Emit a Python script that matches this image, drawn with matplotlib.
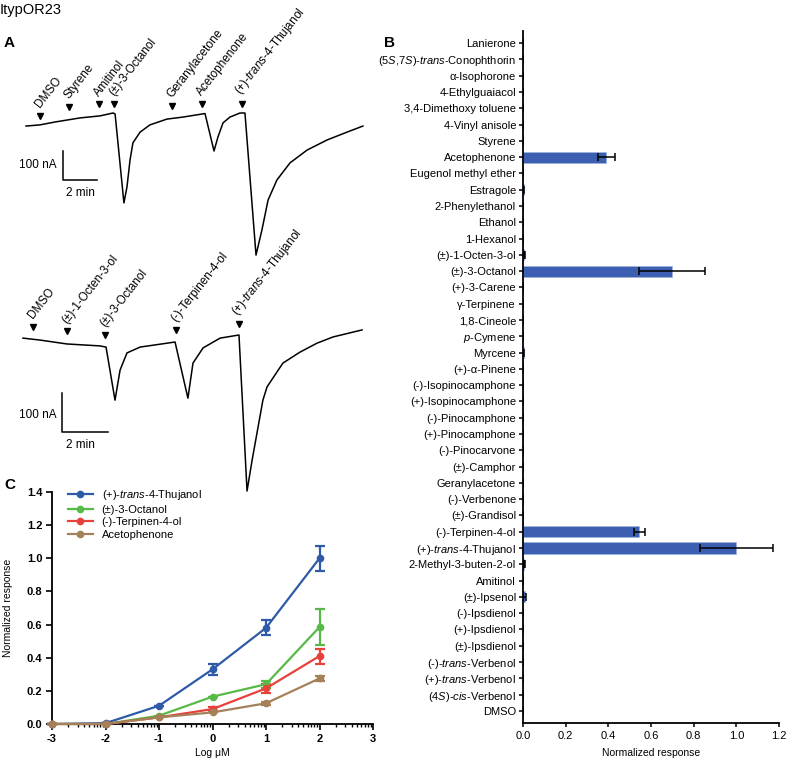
import numpy as np
import matplotlib
matplotlib.use('Agg')
import matplotlib.pyplot as plt
from matplotlib.ticker import FixedLocator
from matplotlib.lines import Line2D

plt.rcParams['font.family'] = ['Liberation Sans', 'DejaVu Sans']
plt.rcParams['mathtext.fontset'] = 'custom'
plt.rcParams['mathtext.rm'] = 'Liberation Sans'
plt.rcParams['mathtext.it'] = 'Liberation Sans:italic'
plt.rcParams['mathtext.bf'] = 'Liberation Sans:bold'

# ---------------- Panel A data (time in min, current in nA) ----------------
top_t = [0, 0.82, 1.71, 3.18, 4.35, 5.12, 5.24, 5.76, 5.94, 6.12, 6.29, 6.71, 7.29,
         8.29, 9.24, 10.41, 10.53, 11.06, 11.29, 11.59, 12.0, 12.59, 12.88, 13.53,
         13.88, 14.24, 14.76, 15.53, 16.53, 17.71, 18.88, 19.82]
top_i = [-45, -41, -31, -17, -10, 0, -3, -310, -255, -162, -103, -66, -41,
         -21, -14, -3, -2, -131, -83, -34, -14, 0, 0, -490,
         -403, -300, -231, -172, -128, -93, -66, -45]
top_stim_names = ['DMSO', 'Styrene', 'Amitinol', '(±)-3-Octanol', 'Geranylacetone',
                  'Acetophenone', r'(+)-$\mathit{trans}$-4-Thujanol']
top_stim_t = [0.82, 2.53, 4.29, 5.18, 8.59, 10.35, 12.71]
top_stim_i = [-10, 21, 31, 31, 24, 31, 31]

bot_t = [0, 0.74, 1.91, 3.35, 3.61, 4.0, 4.22, 4.52, 5.09, 6.26, 6.61, 7.17, 7.39,
         7.83, 8.57, 9.39, 9.74, 9.96, 10.43, 10.61, 11.3, 12.04, 12.78, 13.48, 14.74]
bot_i = [-8, -13, -23, -28, -31, -167, -90, -46, -31, -21, -18, -162, -72,
         -33, -8, 0, -400, -321, -167, -133, -72, -44, -21, -5, 13]
bot_stim_names = ['DMSO', '(±)-1-Octen-3-ol', '(±)-3-Octanol', '(-)-Terpinen-4-ol',
                  r'(+)-$\mathit{trans}$-4-Thujanol']
bot_stim_t = [0.43, 1.91, 3.57, 6.65, 9.39]
bot_stim_i = [21, 10, 0, 13, 28]

# ---------------- Panel B data ----------------
b_labels = ['Lanierone', r'(5$\mathit{S}$,7$\mathit{S}$)-$\mathit{trans}$-Conophthorin',
            'α-Isophorone', '4-Ethylguaiacol', '3,4-Dimethoxy toluene', '4-Vinyl anisole',
            'Styrene', 'Acetophenone', 'Eugenol methyl ether', 'Estragole',
            '2-Phenylethanol', 'Ethanol', '1-Hexanol', '(±)-1-Octen-3-ol', '(±)-3-Octanol',
            '(+)-3-Carene', 'γ-Terpinene', '1,8-Cineole', r'$\mathit{p}$-Cymene', 'Myrcene',
            '(+)-α-Pinene', '(-)-Isopinocamphone', '(+)-Isopinocamphone', '(-)-Pinocamphone',
            '(+)-Pinocamphone', '(-)-Pinocarvone', '(±)-Camphor', 'Geranylacetone',
            '(-)-Verbenone', '(±)-Grandisol', '(-)-Terpinen-4-ol',
            r'(+)-$\mathit{trans}$-4-Thujanol', '2-Methyl-3-buten-2-ol', 'Amitinol',
            '(±)-Ipsenol', '(-)-Ipsdienol', '(+)-Ipsdienol', '(±)-Ipsdienol',
            r'(-)-$\mathit{trans}$-Verbenol', r'(+)-$\mathit{trans}$-Verbenol',
            r'(4$\mathit{S}$)-$\mathit{cis}$-Verbenol', 'DMSO']
b_values = [0, 0, 0, 0, 0, 0, 0, 0.39, 0, 0.004, 0, 0, 0, 0.006, 0.70,
            0, 0, 0, 0, 0.004, 0, 0, 0, 0, 0, 0, 0, 0, 0, 0, 0.545,
            1.0, 0.006, 0, 0.008, 0, 0, 0, 0, 0, 0, 0]
b_errors = [0, 0, 0, 0, 0, 0, 0, 0.04, 0, 0.002, 0, 0, 0, 0.003, 0.155,
            0, 0, 0, 0, 0.002, 0, 0, 0, 0, 0, 0, 0, 0, 0, 0, 0.025,
            0.17, 0.003, 0, 0.006, 0, 0, 0, 0, 0, 0, 0]

# ---------------- Panel C data ----------------
c_log_conc = [-3, -2, -1, 0, 1, 2]
c_series = [r'(+)-$\mathit{trans}$-4-Thujanol', '(±)-3-Octanol', '(-)-Terpinen-4-ol', 'Acetophenone']
c_thujanol = [0.0, 0.005, 0.11, 0.33, 0.58, 1.0]
c_thujanol_err = [0, 0, 0, 0.035, 0.045, 0.077]
c_octanol = [0.0, 0.0, 0.05, 0.165, 0.24, 0.585]
c_octanol_err = [0, 0, 0, 0, 0.02, 0.107]
c_terpinen = [0.0, 0.0, 0.04, 0.09, 0.215, 0.41]
c_terpinen_err = [0, 0, 0, 0.01, 0.025, 0.045]
c_aceto = [0.0, 0.0, 0.04, 0.07, 0.125, 0.275]
c_aceto_err = [0, 0, 0, 0, 0.008, 0.015]
c_colors = ['#2f5aa8', '#57b947', '#e8403a', '#a5815a']

W, H = 786, 763
fig = plt.figure(figsize=(W / 100, H / 100), dpi=100)


def px_axes(x0, y0, x1, y1):
    return fig.add_axes([x0 / W, 1 - y1 / H, (x1 - x0) / W, (y1 - y0) / H])


# ---------------- Panel A ----------------
def draw_trace(ax, t, i, st, si, names, bar_t, bar_i0, lab_nA, lab_min):
    ax.plot(t, i, color='black', lw=1.1)
    ax.plot(st, si, linestyle='none', marker='v', color='black', markersize=5)
    for name, x, y in zip(names, st, si):
        ax.annotate(name, xy=(x, y), xytext=(1.5, 4), textcoords='offset points',
                    rotation=52, rotation_mode='anchor', ha='left', va='bottom',
                    fontsize=8.5)
    ax.plot([bar_t, bar_t, bar_t + 2], [bar_i0, bar_i0 - 100, bar_i0 - 100],
            color='black', lw=1.1)
    ax.text(lab_nA[0], lab_nA[1], '100 nA', ha='right', va='center', fontsize=8.5)
    ax.text(lab_min[0], lab_min[1], '2 min', ha='center', va='center', fontsize=8.5)
    ax.axis('off')


axA1 = px_axes(0, 30, 400, 270)
axA1.set_xlim(-1.529, 22.0)
axA1.set_ylim(-541.4, 286.2)
draw_trace(axA1, top_t, top_i, top_stim_t, top_stim_i, top_stim_names,
           2.18, -131, (1.82, -179), (3.18, -276))

axA2 = px_axes(0, 280, 400, 510)
axA2.set_xlim(-1.0, 16.39)
axA2.set_ylim(-448.7, 141.0)
draw_trace(axA2, bot_t, bot_i, bot_stim_t, bot_stim_i, bot_stim_names,
           1.70, -149, (1.48, -205), (2.48, -282))

# ---------------- Panel B ----------------
axB = px_axes(523, 31, 779, 723)
n = len(b_labels)
ypos = np.arange(n)[::-1]
axB.barh(ypos, b_values, height=0.68, color='#3c5fb1', edgecolor='#9db3de', linewidth=0.5,
         xerr=b_errors, error_kw=dict(ecolor='black', elinewidth=1.1, capsize=3, capthick=1.1))
axB.set_yticks(ypos)
axB.set_yticklabels(b_labels, fontsize=8)
axB.set_ylim(-0.75, n - 0.25)
axB.set_xlim(0, 1.2)
axB.set_xticks([0, 0.2, 0.4, 0.6, 0.8, 1.0, 1.2])
axB.set_xticklabels(['0.0', '0.2', '0.4', '0.6', '0.8', '1.0', '1.2'], fontsize=8)
axB.set_xlabel('Normalized response', fontsize=7.5, labelpad=5)
for s in ['top', 'right']:
    axB.spines[s].set_visible(False)
for s in ['left', 'bottom']:
    axB.spines[s].set_linewidth(1.3)
axB.tick_params(axis='y', length=3, width=1.1, pad=2)
axB.tick_params(axis='x', length=3, width=1.1, pad=3)

# ---------------- Panel C ----------------
axC = px_axes(52, 492, 373, 724)
c_data = [(c_thujanol, c_thujanol_err), (c_octanol, c_octanol_err),
          (c_terpinen, c_terpinen_err), (c_aceto, c_aceto_err)]
handles = []
for (vals, errs), col, lab in zip(c_data, c_colors, c_series):
    axC.errorbar(c_log_conc, vals, yerr=errs, color=col, lw=1.6, marker='o', markersize=4.5,
                 capsize=3.5, capthick=1.6, elinewidth=1.6, clip_on=False, zorder=3)
    handles.append(Line2D([], [], color=col, lw=1.6, marker='o', markersize=4.5, label=lab))
axC.set_xlim(-3, 3)
axC.set_ylim(0, 1.4)
axC.set_xticks([-3, -2, -1, 0, 1, 2, 3])
axC.set_xticklabels(['-3', '-2', '-1', '0', '1', '2', '3'], fontsize=8, fontweight='bold')
minor = [d + np.log10(k) for d in range(-3, 3) for k in range(2, 10)]
axC.xaxis.set_minor_locator(FixedLocator(minor))
axC.set_yticks(np.arange(0, 1.41, 0.2))
axC.set_yticklabels(['0.0', '0.2', '0.4', '0.6', '0.8', '1.0', '1.2', '1.4'],
                    fontsize=8, fontweight='bold')
axC.set_xlabel('Log μM', fontsize=7.5, labelpad=3)
axC.set_ylabel('Normalized response', fontsize=7.5, labelpad=10)
for s in ['top', 'right']:
    axC.spines[s].set_visible(False)
for s in ['left', 'bottom']:
    axC.spines[s].set_linewidth(1.3)
axC.tick_params(axis='both', which='major', length=4, width=1.2, pad=3)
axC.tick_params(axis='x', which='minor', length=2.5, width=1.0)
axC.legend(handles=handles, loc='upper left', bbox_to_anchor=(0.035, 1.035), frameon=False,
           fontsize=8, handlelength=2.3, handletextpad=0.75, labelspacing=0.22, borderaxespad=0)

# ---------------- Panel letters and title ----------------
fig.text(0 / W, 1 - 14 / H, 'ItypOR23', fontsize=10.5, ha='left', va='baseline')
fig.text(4 / W, 1 - 47 / H, 'A', fontsize=11, fontweight='bold', ha='left', va='baseline')
fig.text(384 / W, 1 - 47 / H, 'B', fontsize=11, fontweight='bold', ha='left', va='baseline')
fig.text(4 / W, 1 - 489 / H, 'C', fontsize=11, fontweight='bold', ha='left', va='baseline')

fig.savefig('out.png', dpi=100)
